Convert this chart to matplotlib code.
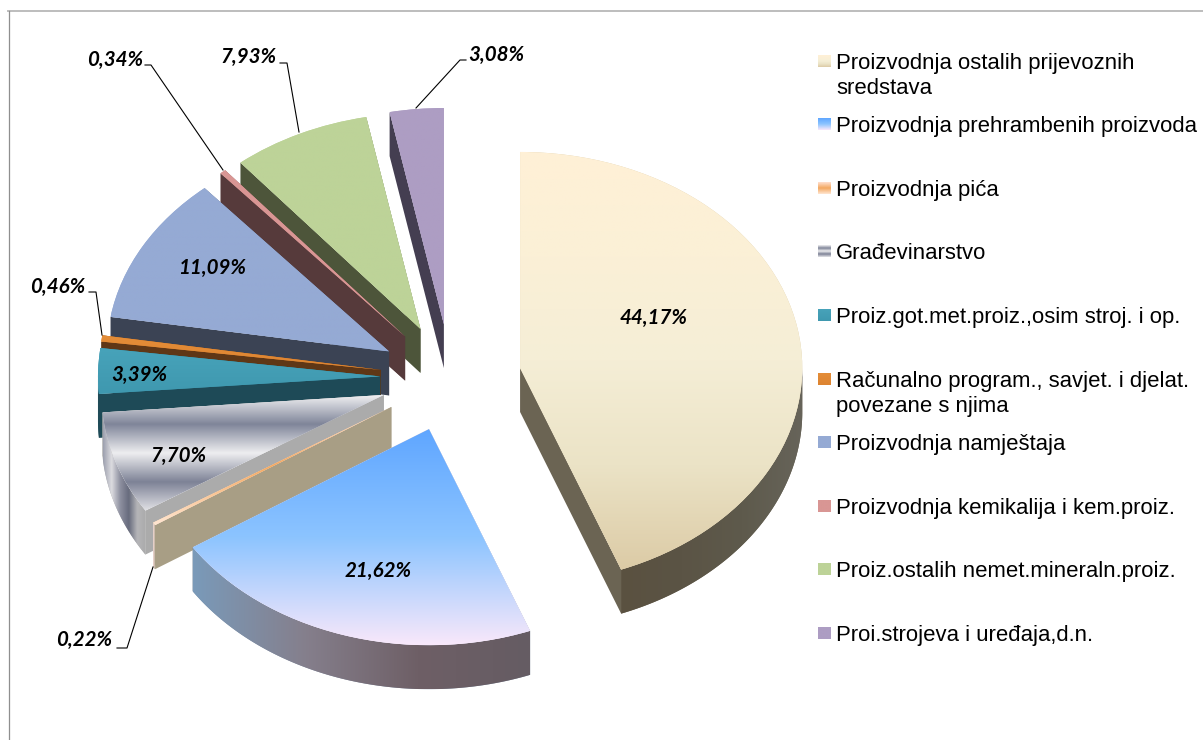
import matplotlib
matplotlib.use('Agg')
import matplotlib.pyplot as plt
from matplotlib.colors import LinearSegmentedColormap, to_rgb
from matplotlib.patches import Polygon
import numpy as np

# data
shares = [44.17, 21.62, 0.22, 7.70, 3.39, 0.46, 11.09, 0.34, 7.93, 3.08]
share_labels = ['44,17%', '21,62%', '0,22%', '7,70%', '3,39%', '0,46%', '11,09%', '0,34%', '7,93%', '3,08%']
legend_names = ['Proizvodnja ostalih prijevoznih\nsredstava',
                'Proizvodnja prehrambenih proizvoda',
                'Proizvodnja pića',
                'Građevinarstvo',
                'Proiz.got.met.proiz.,osim stroj. i op.',
                'Računalno program., savjet. i djelat.\npovezane s njima',
                'Proizvodnja namještaja',
                'Proizvodnja kemikalija i kem.proiz.',
                'Proiz.ostalih nemet.mineraln.proiz.',
                'Proi.strojeva i uređaja,d.n.']

# styles
top_colors = [['#fff0d6', '#fbf0d6', '#f5eed6', '#ebe3c6', '#dccba6'],
              ['#5fa6ff', '#8cc4ff', '#f9e8fa'],
              ['#ffe0d0', '#f4a860', '#ffe6d2'],
              ['#f0f0f2', '#7f8599', '#eeeef0', '#7d8296', '#e2e2e6'],
              ['#47a3ba', '#3f98af'],
              ['#e48d38', '#dd8431'],
              ['#95aad4', '#95aad4'],
              ['#d99694', '#d99694'],
              ['#bdd398', '#bdd398'],
              ['#ad9dc3', '#ad9dc3']]
side_colors = ['#6b6453', '#7d8fa6', '#a89e85', '#ababab', '#1e4a57', '#5f3716', '#3b4354', '#563a3b', '#4d553a', '#443e51']
rim_colors = [['#5a5140', '#5b5445', '#5e5a4c', '#67645a'],
              ['#7a9ab9', '#857f8c', '#6e5f66', '#655c63'],
              ['#f4dcd8', '#a89e85'],
              ['#9c9fae', '#dcdce0', '#8e90a0', '#676b7d', '#b5b5b8', '#ababab'],
              ['#1e4a57', '#1e4a57'],
              ['#5f3716', '#5f3716'],
              ['#3b4354', '#3b4354'],
              ['#563a3b', '#563a3b'],
              ['#4d553a', '#4d553a'],
              ['#443e51', '#443e51']]

# layout in pixels
W, H = 1203, 740
cx, cy, rx, ry = 450.7, 377.8, 282.2, 216.0
depth = 44 / ry
label_xy = [(654, 318), (378, 571), (84, 640), (179, 456), (139, 375), (58, 287),
            (212, 268), (115, 60), (249, 57), (496, 55)]
leaders = [[(117, 648), (127, 648), (153, 567)],
           [(89, 292), (96, 292), (102, 335)],
           [(145, 65), (151, 65), (223, 170)],
           [(280, 63), (287, 63), (299, 132)],
           [(466, 60), (460, 60), (416, 108)]]
legend_y = [62, 125, 189, 252, 316, 380, 443, 507, 570, 634]


def gradient_fill(axis, patch, colors, horizontal=False, z=1):
    cmap = LinearSegmentedColormap.from_list('g', [to_rgb(c) for c in colors], N=256)
    box = patch.get_path().get_extents(patch.get_patch_transform())
    ramp = np.linspace(0, 1, 256)
    ramp = ramp.reshape(1, -1) if horizontal else ramp.reshape(-1, 1)
    im = axis.imshow(ramp, cmap=cmap, vmin=0, vmax=1, aspect='auto', origin='upper', zorder=z,
                     extent=(box.x0, box.x1, box.y0, box.y1), interpolation='bilinear')
    im.set_clip_path(patch)
    return im


fig = plt.figure(figsize=(W / 100, H / 100), dpi=100, facecolor='white')
ax = fig.add_axes([0, 0, 1, 1])
wedges, _ = ax.pie(shares, explode=[0.25] * len(shares), startangle=90, counterclock=False, radius=1)

# paint slices from the back to the front
order = sorted(range(len(wedges)), key=lambda k: -wedges[k].center[1])
z = 2
for k in order:
    w = wedges[k]
    x0, y0 = w.center
    w.set_zorder(z + 3)
    w.set_facecolor(top_colors[k][-1])
    w.set_edgecolor('none')
    # radial walls
    for t in (w.theta1, w.theta2):
        a = np.deg2rad(t)
        ex, ey = x0 + np.cos(a), y0 + np.sin(a)
        ax.add_patch(Polygon([(x0, y0), (ex, ey), (ex, ey - depth), (x0, y0 - depth)],
                             closed=True, fc=side_colors[k], ec='none', zorder=z))
    # outer wall, only the part below the centre line shows
    th = np.deg2rad(np.linspace(w.theta1, w.theta2, 300))
    th = th[np.sin(th) < 0]
    if len(th) > 1:
        top = np.column_stack([x0 + np.cos(th), y0 + np.sin(th)])
        low = top - [0, depth]
        rim = Polygon(np.vstack([top, low[::-1]]), closed=True, fc=side_colors[k], ec='none', zorder=z + 1)
        ax.add_patch(rim)
        gradient_fill(ax, rim, rim_colors[k], horizontal=True, z=z + 2)
    gradient_fill(ax, w, top_colors[k], z=z + 4)
    z += 5

ax.set_xlim(-cx / rx, (W - cx) / rx)
ax.set_ylim((cy - H) / ry, cy / ry)
ax.set_aspect('auto')
ax.axis('off')

# overlay in pixel coordinates
ov = fig.add_axes([0, 0, 1, 1])
ov.patch.set_alpha(0)
ov.plot([8, W], [11, 11], color='#bdbdbd', lw=1.4)
ov.plot([8.5, 8.5], [10.5, H], color='#8f8f8f', lw=0.9)

for pts in leaders:
    ov.plot([p[0] for p in pts], [p[1] for p in pts], color='black', lw=0.8)

for txt, (x, y) in zip(share_labels, label_xy):
    ov.text(x, y, txt, family='Lato', weight='bold', style='italic', fontsize=14.8,
            ha='center', va='center', color='black')

for name, y, cols in zip(legend_names, legend_y, top_colors):
    ov.text(836, y - 9, name, family='Liberation Sans', fontsize=15.9, ha='left', va='top',
            color='black', linespacing=1.22)
    cmap = LinearSegmentedColormap.from_list('m', [to_rgb(c) for c in cols], N=64)
    ov.imshow(np.linspace(0, 1, 64).reshape(-1, 1), cmap=cmap, aspect='auto', origin='upper',
              extent=(818, 831, y + 5.5, y - 6.5))

ov.set_xlim(0, W)
ov.set_ylim(H, 0)
ov.set_aspect('auto')
ov.axis('off')

fig.savefig('out.png', dpi=100)
